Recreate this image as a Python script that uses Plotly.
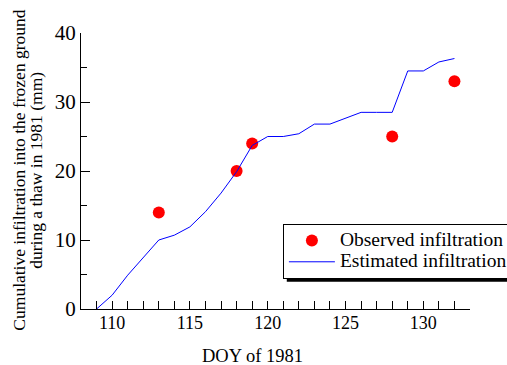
import plotly.graph_objects as go

# Estimated cumulative infiltration (line)
est_doy = [109, 110, 111, 112, 113, 114, 115, 116, 117, 118, 119, 120,
           121, 122, 123, 124, 125, 126, 127, 128, 129, 130, 131, 132]
est_mm = [0.0, 2.0, 4.9, 7.5, 10.0, 10.7, 11.9, 14.1, 16.8, 19.9, 23.7, 25.0,
          25.0, 25.4, 26.8, 26.8, 27.6, 28.5, 28.5, 28.5, 34.5, 34.5, 35.8, 36.3]

# Observed infiltration (points)
obs_doy = [113, 118, 119, 128, 132]
obs_mm = [14, 20, 24, 25, 33]

series_names = ["Observed infiltration", "Estimated infiltration"]
x_title = "DOY of 1981"
y_title_1 = "Cumulative infiltration into the frozen ground"
y_title_2 = "during a thaw in 1981 (mm)"

FONT = "Liberation Serif"


def legend_label(s):
    return "<span style='font-size:19.5px'>" + s + "</span>"


fig = go.Figure()
fig.add_trace(go.Scatter(
    x=obs_doy, y=obs_mm, mode="markers", name=legend_label(series_names[0]),
    marker=dict(color="#ff0000", size=12, line=dict(width=0)),
))
fig.add_trace(go.Scatter(
    x=est_doy, y=est_mm, mode="lines", name=legend_label(series_names[1]),
    line=dict(color="#0000ff", width=1),
))

axis_common = dict(
    showline=True, linecolor="black", linewidth=1, showgrid=False,
    zeroline=False, ticks="inside", tickcolor="black", tickwidth=1,
)

fig.update_layout(
    width=507, height=365,
    margin=dict(l=81, r=37, t=33, b=56, autoexpand=False),
    paper_bgcolor="white", plot_bgcolor="white",
    font=dict(family=FONT, color="black"),
    xaxis=dict(
        **axis_common, range=[108, 133], tick0=110, dtick=5, ticklen=8,
        tickfont=dict(size=18, family=FONT, color="black"), ticklabelstandoff=-3,
        minor=dict(dtick=1, tick0=108, ticks="inside", ticklen=8,
                   tickcolor="black", tickwidth=1),
    ),
    yaxis=dict(
        **axis_common, range=[0, 40], dtick=10, ticklen=9,
        tickfont=dict(size=21, family=FONT, color="black"), ticklabelstandoff=0,
        minor=dict(dtick=5, ticks="inside", ticklen=6,
                   tickcolor="black", tickwidth=1),
    ),
    showlegend=True,
    legend=dict(
        x=0.519, y=0.308, xanchor="left", yanchor="top",
        bgcolor="white", bordercolor="black", borderwidth=1,
        font=dict(size=14, family=FONT, color="black"), itemwidth=46,
        tracegroupgap=0,
    ),
    shapes=[dict(
        type="rect", xref="paper", yref="paper",
        x0=0.529, x1=1.2, y0=0.099, y1=0.1134,
        fillcolor="black", line=dict(width=0), layer="below",
    )],
    annotations=[
        dict(text=x_title, xref="paper", yref="paper", x=0.442, y=-0.170,
             xanchor="center", yanchor="middle", showarrow=False,
             font=dict(size=18.5, family=FONT, color="black")),
        dict(text=y_title_1, xref="paper", yref="paper", x=-0.160, y=0.504,
             xanchor="center", yanchor="middle", textangle=-90, showarrow=False,
             font=dict(size=17.5, family=FONT, color="black")),
        dict(text=y_title_2, xref="paper", yref="paper", x=-0.116, y=0.504,
             xanchor="center", yanchor="middle", textangle=-90, showarrow=False,
             font=dict(size=17.5, family=FONT, color="black")),
    ],
)

fig.write_html("out.html")
